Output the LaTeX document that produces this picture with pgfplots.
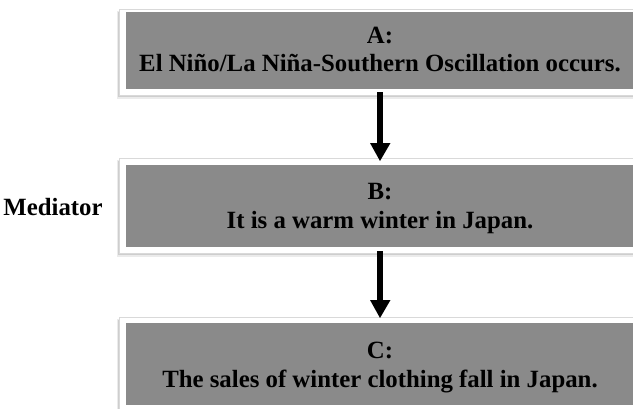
\documentclass[border=0pt]{standalone}
\usepackage{pgfplots}
\pgfplotsset{compat=1.18}
\usepackage{fontspec}
\setmainfont{Liberation Serif}
\definecolor{boxgray}{HTML}{8A8A8A}
\begin{document}
\begin{tikzpicture}
\begin{axis}[
  width=633bp, height=409bp, scale only axis,
  xmin=0, xmax=633, ymin=0, ymax=409, y dir=reverse,
  hide axis, clip=true,
]
% shadows
\addplot[fill=black, fill opacity=0.08, draw=none] coordinates {(117,11) (660,11) (660,98.5) (117,98.5)};
\addplot[fill=black, fill opacity=0.12, draw=none] coordinates {(118,12) (660,12) (660,97) (118,97)};
\addplot[fill=black, fill opacity=0.08, draw=none] coordinates {(117,160) (660,160) (660,256.5) (117,256.5)};
\addplot[fill=black, fill opacity=0.12, draw=none] coordinates {(118,161) (660,161) (660,255) (118,255)};
\addplot[fill=black, fill opacity=0.08, draw=none] coordinates {(117,319) (660,319) (660,420) (117,420)};
\addplot[fill=black, fill opacity=0.12, draw=none] coordinates {(118,320) (660,320) (660,420) (118,420)};
% white frames
\addplot[fill=white, draw=black!15, line width=0.4pt] coordinates {(119,9) (660,9) (660,95) (119,95) (119,9)};
\addplot[fill=white, draw=black!15, line width=0.4pt] coordinates {(119,158) (660,158) (660,253) (119,253) (119,158)};
\addplot[fill=white, draw=black!15, line width=0.4pt] coordinates {(119,317) (660,317) (660,420) (119,420) (119,317)};
% gray boxes
\addplot[fill=boxgray, draw=none] coordinates {(126,12.5) (660,12.5) (660,88.5) (126,88.5)};
\addplot[fill=boxgray, draw=none] coordinates {(126,165) (660,165) (660,247) (126,247)};
\addplot[fill=boxgray, draw=none] coordinates {(126,323.3) (660,323.3) (660,405) (126,405)};
% arrows
\addplot[fill=black, draw=none] coordinates {(376.7,92) (383.3,92) (383.3,143) (376.7,143)};
\addplot[fill=black, draw=none] coordinates {(370,143) (390.5,143) (380,161)};
\addplot[fill=black, draw=none] coordinates {(376.7,251) (383.3,251) (383.3,300) (376.7,300)};
\addplot[fill=black, draw=none] coordinates {(370,300) (390.5,300) (380,318)};
% texts
\begin{scope}[every node/.style={anchor=base, inner sep=0pt, font=\fontsize{24.8bp}{28bp}\selectfont\bfseries}]
\node at (axis cs:380,43.3) {A:};
\node at (axis cs:380,71.7) {El Niño/La Niña-Southern Oscillation occurs.};
\node at (axis cs:380,199.3) {B:};
\node at (axis cs:380,228.3) {It is a warm winter in Japan.};
\node at (axis cs:380,358.3) {C:};
\node at (axis cs:380,387.7) {The sales of winter clothing fall in Japan.};
\node at (axis cs:53,215) {Mediator};
\end{scope}
\coordinate (sw) at (axis cs:0,409);
\coordinate (ne) at (axis cs:633,0);
\end{axis}
\pgfresetboundingbox
\path[use as bounding box] (sw) rectangle (ne);
\end{tikzpicture}
\end{document}
